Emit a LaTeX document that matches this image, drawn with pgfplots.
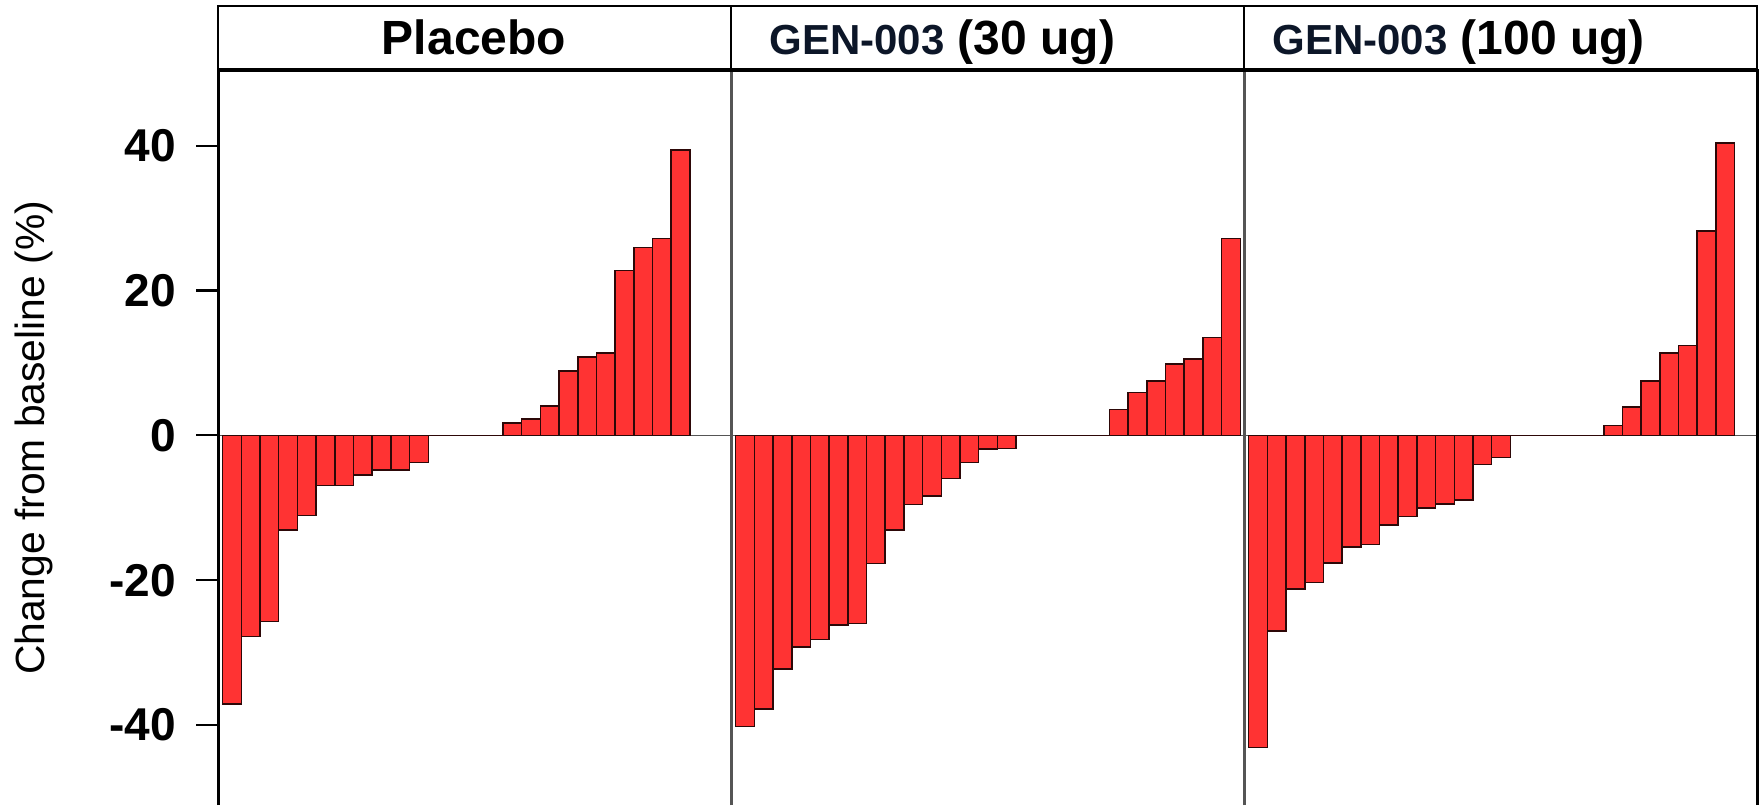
\documentclass[border=0pt]{standalone}
\usepackage{pgfplots}
\pgfplotsset{compat=1.18}
\usepackage{fontspec}
\setmainfont{Liberation Sans}
\definecolor{barred}{RGB}{255,51,51}
\definecolor{baredge}{RGB}{45,8,8}
\definecolor{navy}{RGB}{12,22,40}
\definecolor{divgray}{RGB}{85,85,85}
\pgfplotsset{
  panel/.style={
    width=256.5pt, height=368pt, scale only axis,
    anchor=south west,
    xmin=0.25, xmax=27.7, ymin=-51.05, ymax=50.6,
    axis line style={draw=none},
    xtick=\empty, ytick=\empty,
    clip=false,
    ybar, bar width=1, bar shift=0pt,
  },
  barstyle/.style={fill=barred, draw=baredge, line width=0.75pt},
}
\begin{document}
\begin{tikzpicture}
\path[use as bounding box] (0pt,0pt) rectangle (882pt,402.5pt);
% ---------- Panel 1 ----------
\begin{axis}[panel, at={(109pt,0pt)},
  ytick={-40,-20,0,20,40},
  ytick pos=left, tick align=outside,
  major tick length=11pt,
  tick style={line width=1.1pt, black},
  yticklabel={\pgfmathprintnumber[assume math mode=true]{\tick}},
  yticklabel style={font=\fontsize{23}{23}\selectfont\bfseries, anchor=east, inner sep=0pt, xshift=-10pt},
]
\draw[divgray, line width=0.6pt] (axis cs:0.25,0) -- (axis cs:27.7,0);
\addplot[barstyle] coordinates {
(1,-37.1) (2,-27.8) (3,-25.7) (4,-13.1) (5,-11.1) (6,-6.9) (7,-6.9) (8,-5.5)
(9,-4.75) (10,-4.75) (11,-3.76) (12,0) (13,0) (14,0) (15,0) (16,1.7) (17,2.27)
(18,4.04) (19,8.87) (20,10.85) (21,11.35) (22,22.8) (23,25.96) (24,27.2) (25,39.4)
};
\draw[black, line width=1.5pt] (rel axis cs:0,0) -- (rel axis cs:0,1);
\draw[divgray, line width=1.5pt] (rel axis cs:1,0) -- (rel axis cs:1,1);
\end{axis}
% ---------- Panel 2 ----------
\begin{axis}[panel, at={(365.5pt,0pt)}]
\draw[divgray, line width=0.6pt] (axis cs:0.25,0) -- (axis cs:27.7,0);
\addplot[barstyle] coordinates {
(1,-40.2) (2,-37.8) (3,-32.3) (4,-29.2) (5,-28.2) (6,-26.2) (7,-26.0) (8,-17.7)
(9,-13.05) (10,-9.57) (11,-8.37) (12,-5.96) (13,-3.76) (14,-1.9) (15,-1.8)
(16,0) (17,0) (18,0) (19,0) (20,0) (21,3.55) (22,5.9) (23,7.5) (24,9.86)
(25,10.57) (26,13.5) (27,27.2)
};
\draw[divgray, line width=1.5pt] (rel axis cs:0,0) -- (rel axis cs:0,1);
\draw[divgray, line width=1.5pt] (rel axis cs:1,0) -- (rel axis cs:1,1);
\end{axis}
% ---------- Panel 3 ----------
\begin{axis}[panel, at={(622pt,0pt)}]
\draw[divgray, line width=0.6pt] (axis cs:0.25,0) -- (axis cs:27.7,0);
\addplot[barstyle] coordinates {
(1,-43.1) (2,-27.0) (3,-21.2) (4,-20.35) (5,-17.66) (6,-15.4) (7,-15.1) (8,-12.4)
(9,-11.2) (10,-10.0) (11,-9.5) (12,-8.94) (13,-4.04) (14,-3.05) (15,0) (16,0)
(17,0) (18,0) (19,0) (20,1.35) (21,3.9) (22,7.5) (23,11.35) (24,12.4) (25,28.2)
(26,40.35)
};
\draw[divgray, line width=1.5pt] (rel axis cs:0,0) -- (rel axis cs:0,1);
\draw[black, line width=1.5pt] (rel axis cs:1,0) -- (rel axis cs:1,1);
\end{axis}
% ---------- Headers ----------
\draw[black, line width=1.1pt] (109pt,368pt) rectangle (365.5pt,399.5pt);
\draw[black, line width=1.1pt] (365.5pt,368pt) rectangle (622pt,399.5pt);
\draw[black, line width=1.1pt] (622pt,368pt) rectangle (878.5pt,399.5pt);
\draw[black, line width=2pt] (109pt,367.5pt) -- (878.5pt,367.5pt);
\node[anchor=base, inner sep=0pt] at (237pt,375pt) {\fontsize{24}{24}\selectfont\bfseries Placebo};
\node[anchor=base west, inner sep=0pt] at (384.5pt,375pt) {\bfseries{\fontsize{21}{21}\selectfont\color{navy}GEN-003}\fontsize{24}{24}\selectfont\ (30 ug)};
\node[anchor=base west, inner sep=0pt] at (636pt,375pt) {\bfseries{\fontsize{21}{21}\selectfont\color{navy}GEN-003}\fontsize{24}{24}\selectfont\ (100 ug)};
% ---------- Y label ----------
\node[rotate=90, anchor=center, inner sep=0pt] at (16.75pt,183.5pt) {\fontsize{20.4}{20.4}\selectfont Change from baseline (\%)};
\end{tikzpicture}
\end{document}
